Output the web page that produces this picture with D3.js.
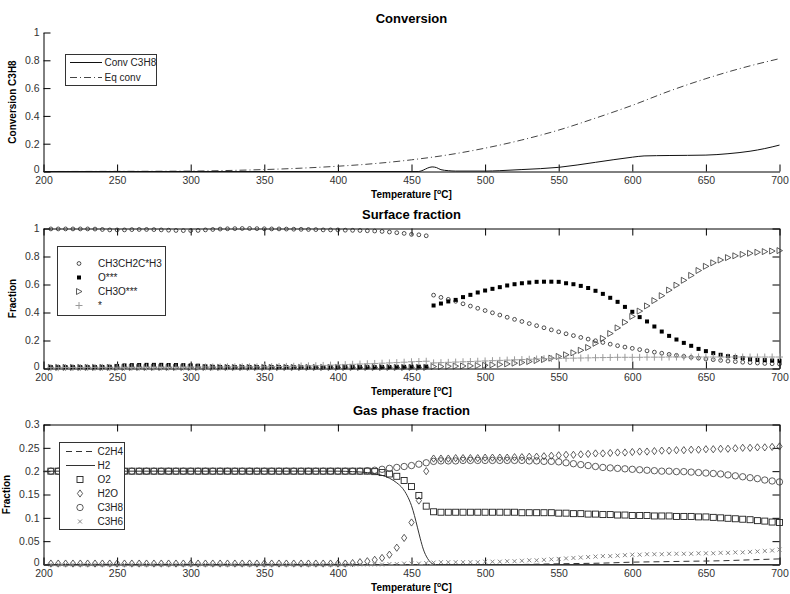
<!DOCTYPE html>
<html><head><meta charset="utf-8">
<script src="https://cdn.jsdelivr.net/npm/d3@7"></script>
<style>
html,body{margin:0;padding:0;background:#fff;}
svg{display:block;font-family:"Liberation Sans",Arial,sans-serif;}
.tick text{font-size:10.5px;fill:#333;}
.tick line,.domain{stroke:#000;}
</style></head><body>
<svg id="chart" width="790" height="594"></svg>
<script>
// ---------- temperature grid (°C) for the marker series ----------
const markerTemps = d3.range(205, 701, 5);

// ---------- Conversion panel ----------
const convTemps = [200,455,458,461,464,467,470,475,480,500,510,525,550,575,600,608,625,650,665,680,690,700];
const convC3H8  = [0,0,.01,.025,.033,.028,.013,.006,.003,.003,.006,.014,.03,.066,.103,.112,.115,.118,.128,.146,.165,.19];
const eqTemps   = [200,250,300,320,340,350,375,400,425,450,475,500,525,550,575,600,625,650,675,700];
const eqConv    = [0,.001,.003,.006,.011,.014,.024,.038,.057,.084,.12,.168,.227,.298,.384,.476,.578,.668,.746,.812];

// ---------- Surface fraction panel (205..700 every 5 °C) ----------
const surfPropyl = [
 .997,.997,.997,.997,.997,.997,.996,.993,.99,.99,
 .99,.992,.993,.993,.992,.99,.988,.986,.985,.985,
 .986,.99,.993,.996,.998,.999,1,1,.999,.998,
 .997,.997,.996,.995,.994,.993,.992,.99,.99,.99,
 .988,.987,.986,.984,.982,.979,.975,.97,.965,.958,
 .955,.948,.524,.508,.494,.48,.462,.446,.43,.414,
 .398,.382,.366,.351,.336,.321,.306,.291,.276,.262,
 .248,.235,.222,.21,.198,.186,.174,.163,.153,.144,
 .135,.126,.117,.109,.101,.094,.087,.08,.074,.068,
 .063,.058,.053,.049,.045,.042,.039,.036,.034,.032];
const surfO = [
 .01,.01,.01,.01,.01,.01,.01,.011,.012,.018,
 .022,.024,.025,.026,.026,.026,.025,.025,.024,.022,
 .02,.015,.012,.011,.01,.01,.01,.01,.01,.01,
 .01,.01,.01,.01,.01,.01,.01,.01,.01,.01,
 .01,.01,.01,.01,.01,.011,.011,.012,.012,.013,
 .013,.014,.45,.464,.479,.49,.51,.526,.543,.557,
 .569,.581,.593,.602,.609,.614,.619,.62,.62,.619,
 .609,.602,.59,.575,.555,.533,.505,.476,.44,.405,
 .367,.336,.3,.264,.233,.207,.183,.162,.14,.124,
 .11,.098,.088,.081,.074,.067,.062,.06,.057,.055];
const surfCH3O = [
 .008,.008,.008,.008,.008,.008,.008,.008,.008,.008,
 .008,.008,.008,.008,.008,.008,.008,.008,.008,.008,
 .008,.008,.008,.008,.008,.008,.008,.008,.008,.008,
 .008,.008,.008,.008,.008,.008,.008,.008,.008,.008,
 .008,.008,.008,.008,.008,.008,.008,.008,.008,.008,
 .008,.008,.014,.014,.016,.017,.018,.019,.021,.023,
 .026,.029,.033,.038,.043,.05,.057,.064,.074,.086,
 .098,.112,.13,.15,.18,.215,.25,.29,.33,.372,
 .41,.447,.485,.52,.56,.595,.63,.665,.7,.73,
 .755,.775,.792,.805,.815,.823,.83,.835,.839,.842];
const surfFree = [
 .006,.006,.007,.007,.007,.008,.008,.008,.008,.009,
 .009,.009,.009,.01,.01,.01,.01,.01,.011,.011,
 .011,.011,.011,.011,.012,.012,.012,.012,.012,.012,
 .013,.014,.015,.016,.018,.019,.02,.022,.024,.026,
 .028,.03,.032,.034,.036,.038,.04,.042,.045,.048,
 .05,.052,.04,.042,.044,.046,.048,.05,.052,.054,
 .056,.058,.06,.062,.064,.066,.068,.07,.071,.072,
 .073,.074,.075,.076,.077,.078,.079,.08,.08,.08,
 .08,.081,.081,.081,.082,.082,.082,.082,.082,.082,
 .082,.082,.082,.082,.082,.082,.082,.082,.082,.082];

// ---------- Gas phase fraction panel ----------
const h2Temps   = [200,400,410,420,430,435,440,444,447,450,452,454,456,458,460,462,464,466,700];
const gasH2     = [.2,.2,.199,.197,.191,.185,.175,.163,.148,.126,.105,.08,.055,.033,.018,.008,.002,0,0];
const c2h4Temps = [200,520,540,560,580,600,620,640,660,680,700];
const gasC2H4   = [0,0,.001,.002,.003,.005,.006,.007,.008,.01,.012];
const gasO2 = [
 .2,.2,.2,.2,.2,.2,.2,.2,.2,.2,
 .2,.2,.2,.2,.2,.2,.2,.2,.2,.2,
 .2,.2,.2,.2,.2,.2,.2,.2,.2,.2,
 .2,.2,.2,.2,.2,.2,.2,.2,.2,.2,
 .2,.2,.2,.2,.199,.197,.194,.189,.18,.167,
 .148,.125,.113,.112,.112,.112,.112,.112,.112,.112,
 .112,.112,.112,.112,.111,.111,.111,.111,.111,.11,
 .11,.109,.109,.108,.108,.107,.107,.106,.106,.105,
 .105,.105,.104,.104,.104,.103,.103,.103,.102,.102,
 .101,.1,.099,.098,.097,.096,.094,.093,.091,.09];
const gasH2O = [
 .002,.002,.002,.002,.002,.002,.002,.002,.002,.002,
 .002,.002,.002,.002,.002,.002,.002,.002,.002,.002,
 .002,.002,.002,.002,.002,.002,.002,.002,.002,.002,
 .002,.002,.002,.002,.002,.002,.002,.002,.002,.002,
 .002,.003,.005,.007,.01,.014,.021,.036,.057,.09,
 .137,.2,.227,.227,.227,.228,.228,.228,.228,.229,
 .229,.229,.229,.23,.23,.231,.231,.232,.233,.234,
 .235,.235,.236,.237,.238,.238,.239,.24,.24,.241,
 .242,.242,.243,.244,.244,.245,.245,.246,.246,.247,
 .247,.248,.248,.249,.25,.25,.251,.251,.252,.253];
const gasC3H8 = [
 .2,.2,.2,.2,.2,.2,.2,.2,.2,.2,
 .2,.2,.2,.2,.2,.2,.2,.2,.2,.2,
 .2,.2,.2,.2,.2,.2,.2,.2,.2,.2,
 .2,.2,.2,.2,.2,.2,.2,.2,.2,.2,
 .2,.2,.2,.201,.202,.204,.206,.208,.21,.212,
 .215,.218,.221,.222,.222,.222,.223,.223,.223,.223,
 .223,.223,.223,.223,.223,.222,.222,.221,.221,.22,
 .218,.216,.214,.212,.21,.208,.207,.206,.205,.204,
 .203,.202,.201,.2,.2,.199,.199,.198,.197,.196,
 .195,.194,.192,.19,.188,.186,.184,.181,.179,.177];
const gasC3H6 = [
 0,0,0,0,0,0,0,0,0,0,
 0,0,0,0,0,0,0,0,0,0,
 0,0,0,0,0,0,0,0,0,0,
 0,0,0,0,0,0,0,0,0,0,
 0,0,0,0,0,0,.001,.001,.002,.002,
 .002,.003,.004,.005,.005,.005,.005,.005,.005,.006,
 .006,.006,.007,.007,.008,.009,.009,.01,.011,.012,
 .013,.014,.015,.016,.017,.018,.018,.019,.02,.021,
 .021,.022,.022,.022,.023,.023,.023,.023,.024,.024,
 .024,.025,.025,.026,.026,.027,.028,.029,.03,.032];

// ---------- ticks ----------
const xTicks = [200,250,300,350,400,450,500,550,600,650,700];
const unitTicks = [0,0.2,0.4,0.6,0.8,1];
const gasTicks = [0,0.05,0.1,0.15,0.2,0.25,0.3];
const unitLabels = ["0","0.2","0.4","0.6","0.8","1"];
const gasLabels = ["0","0.05","0.1","0.15","0.2","0.25","0.3"];

const svg = d3.select("#chart");
svg.append("rect").attr("width",790).attr("height",594).attr("fill","#fff");

const x = d3.scaleLinear().domain([200,700]).range([43.5,779.5]);
const yConv = d3.scaleLinear().domain([0,1]).range([171.5,32.5]);
const ySurf = d3.scaleLinear().domain([0,1]).range([368.5,228.5]);
const yGas  = d3.scaleLinear().domain([0,0.3]).range([564.5,424.5]);

function axes(y, ticks, labels, box) {
  const g = svg.append("g");
  const y0 = y.range()[0], y1 = y.range()[1];
  const x0 = x.range()[0], x1 = x.range()[1];
  g.append("g").attr("transform",`translate(0,${y0})`)
    .call(d3.axisBottom(x).tickValues(xTicks).tickFormat(d3.format("d"))
      .tickSizeInner(-7).tickSizeOuter(0).tickPadding(5));
  const yl = g.append("g").attr("transform",`translate(${x0},0)`)
    .call(d3.axisLeft(y).tickValues(ticks).tickFormat((d,i)=>labels[i])
      .tickSizeInner(-7).tickSizeOuter(0).tickPadding(4));
  // the zero label sits just above the corner, clear of the first x label
  yl.selectAll(".tick text").filter(d=>d===0).attr("dy","0.1em");
  if (box) {
    g.append("g").attr("transform",`translate(0,${y1})`)
      .call(d3.axisTop(x).tickValues(xTicks).tickFormat("").tickSizeInner(-7).tickSizeOuter(0));
    g.append("g").attr("transform",`translate(${x1},0)`)
      .call(d3.axisRight(y).tickValues(ticks).tickFormat("").tickSizeInner(-7).tickSizeOuter(0));
  }
  g.selectAll("g").attr("font-family",null).attr("font-size",null);
  return g;
}

function titles(y, title, ylab, ylabX) {
  const cx = (x.range()[0]+x.range()[1])/2;
  const y0 = y.range()[0], y1 = y.range()[1];
  svg.append("text").attr("x",cx).attr("y",y1-9.5).attr("text-anchor","middle")
    .attr("font-size",13).attr("font-weight","bold").text(title);
  const t = svg.append("text").attr("x",cx).attr("y",y0+26).attr("text-anchor","middle")
    .attr("font-size",10).attr("font-weight","bold");
  t.append("tspan").text("Temperature [");
  t.append("tspan").attr("font-size",7).attr("dy",-4).text("o");
  t.append("tspan").attr("dy",4).text("C]");
  svg.append("text").attr("transform",`translate(${ylabX},${(y0+y1)/2}) rotate(-90)`)
    .attr("text-anchor","middle").attr("font-size",10).attr("font-weight","bold").text(ylab);
}

const curve = d3.curveMonotoneX;
function lineOf(y, xs, ys) {
  return d3.line().x((d,i)=>x(xs[i])).y(d=>y(d)).curve(curve)(ys);
}

// marker painters
const mk = {
  smallCircle: (g,cx,cy)=>g.append("circle").attr("cx",cx).attr("cy",cy).attr("r",1.9)
      .attr("fill","none").attr("stroke","#222").attr("stroke-width",0.8),
  filledSquare: (g,cx,cy)=>g.append("rect").attr("x",cx-2).attr("y",cy-2).attr("width",4).attr("height",4)
      .attr("fill","#000"),
  triRight: (g,cx,cy)=>g.append("path").attr("d",`M${cx-2.5},${cy-3}L${cx+3},${cy}L${cx-2.5},${cy+3}Z`)
      .attr("fill","none").attr("stroke","#333").attr("stroke-width",0.8),
  plus: (g,cx,cy)=>g.append("path").attr("d",`M${cx-3.5},${cy}H${cx+3.5}M${cx},${cy-3.5}V${cy+3.5}`)
      .attr("stroke","#9a9a9a").attr("stroke-width",1),
  square: (g,cx,cy)=>g.append("rect").attr("x",cx-3).attr("y",cy-3).attr("width",6).attr("height",6)
      .attr("fill","none").attr("stroke","#222").attr("stroke-width",0.9),
  diamond: (g,cx,cy)=>g.append("path").attr("d",`M${cx},${cy-3.6}L${cx+2.6},${cy}L${cx},${cy+3.6}L${cx-2.6},${cy}Z`)
      .attr("fill","none").attr("stroke","#333").attr("stroke-width",0.8),
  circle: (g,cx,cy)=>g.append("circle").attr("cx",cx).attr("cy",cy).attr("r",3.2)
      .attr("fill","none").attr("stroke","#333").attr("stroke-width",0.8),
  cross: (g,cx,cy)=>g.append("path").attr("d",`M${cx-2},${cy-2}L${cx+2},${cy+2}M${cx-2},${cy+2}L${cx+2},${cy-2}`)
      .attr("stroke","#777").attr("stroke-width",0.9)
};
function markers(y, vals, kind) {
  const g = svg.append("g");
  vals.forEach((v,i)=>mk[kind](g, x(markerTemps[i]), y(v)));
}

function legendBox(x0,y0,w,h){
  svg.append("rect").attr("x",x0).attr("y",y0).attr("width",w).attr("height",h)
    .attr("fill","#fff").attr("stroke","#333").attr("stroke-width",1);
}
function legendText(tx,ty,s){
  svg.append("text").attr("x",tx).attr("y",ty+3.5).attr("font-size",10).attr("fill","#222").text(s);
}

// ===== Conversion =====
axes(yConv, unitTicks, unitLabels, false);
titles(yConv, "Conversion", "Conversion C3H8", 16);
svg.append("path").attr("d",lineOf(yConv, eqTemps, eqConv)).attr("fill","none")
  .attr("stroke","#444").attr("stroke-width",1).attr("stroke-dasharray","7,3,1,3");
svg.append("path").attr("d",lineOf(yConv, convTemps, convC3H8)).attr("fill","none")
  .attr("stroke","#111").attr("stroke-width",1);
legendBox(65.5,54.5,91,31);
svg.append("line").attr("x1",70).attr("x2",102).attr("y1",62.5).attr("y2",62.5).attr("stroke","#111");
svg.append("line").attr("x1",70).attr("x2",102).attr("y1",77.5).attr("y2",77.5).attr("stroke","#444")
  .attr("stroke-dasharray","7,3,1,3");
legendText(104.5,62.5,"Conv C3H8");
legendText(104.5,77.5,"Eq conv");

// ===== Surface fraction =====
axes(ySurf, unitTicks, unitLabels, true);
titles(ySurf, "Surface fraction", "Fraction", 16);
markers(ySurf, surfPropyl, "smallCircle");
markers(ySurf, surfO, "filledSquare");
markers(ySurf, surfCH3O, "triRight");
markers(ySurf, surfFree, "plus");
legendBox(57.5,246.5,108,69);
const surfLeg = [["smallCircle","CH3CH2C*H3"],["filledSquare","O***"],["triRight","CH3O***"],["plus","*"]];
surfLeg.forEach((d,i)=>{
  const ly = 263.5 + i*14;
  mk[d[0]](svg, 79, ly);
  legendText(98, ly, d[1]);
});

// ===== Gas phase fraction =====
axes(yGas, gasTicks, gasLabels, true);
titles(yGas, "Gas phase fraction", "Fraction", 10);
svg.append("path").attr("d",lineOf(yGas, c2h4Temps, gasC2H4)).attr("fill","none")
  .attr("stroke","#333").attr("stroke-width",1).attr("stroke-dasharray","6,4");
svg.append("path").attr("d",lineOf(yGas, h2Temps, gasH2)).attr("fill","none")
  .attr("stroke","#333").attr("stroke-width",1);
markers(yGas, gasO2, "square");
markers(yGas, gasH2O, "diamond");
markers(yGas, gasC3H8, "circle");
markers(yGas, gasC3H6, "cross");
legendBox(59.5,442.5,65,87);
svg.append("line").attr("x1",66).attr("x2",95).attr("y1",451.5).attr("y2",451.5)
  .attr("stroke","#333").attr("stroke-dasharray","6,4");
svg.append("line").attr("x1",66).attr("x2",95).attr("y1",465.5).attr("y2",465.5).attr("stroke","#333");
[["square",479.5],["diamond",493.5],["circle",507.5],["cross",521.5]].forEach(d=>mk[d[0]](svg,80,d[1]));
[["C2H4",451.5],["H2",465.5],["O2",479.5],["H2O",493.5],["C3H8",507.5],["C3H6",521.5]]
  .forEach(d=>legendText(97.5,d[1],d[0]));
</script></body></html>
